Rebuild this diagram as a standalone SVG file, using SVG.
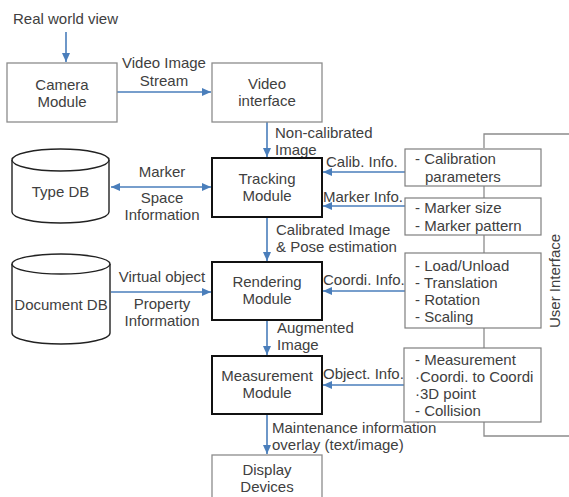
<svg xmlns="http://www.w3.org/2000/svg" width="569" height="497" viewBox="0 0 569 497">
<defs>
<marker id="ah" markerUnits="userSpaceOnUse" markerWidth="10" markerHeight="10" viewBox="0 0 10 10" refX="9" refY="5" orient="auto-start-reverse">
<path d="M0,1 L9,5 L0,9 z" fill="#4a7ebb"/>
</marker>
<style>
text{font-family:"Liberation Sans",Arial,sans-serif;font-size:15px;fill:#404040}
.c{text-anchor:middle}
.box{fill:#fff;stroke:#8c8c8c;stroke-width:1.3}
.mod{fill:#fff;stroke:#111;stroke-width:2}
.db{fill:#fff;stroke:#222;stroke-width:1.4}
.ui{fill:#fff;stroke:#7f7f7f;stroke-width:1.2}
.ar{stroke:#4a7ebb;stroke-width:1.6;fill:none;marker-end:url(#ah)}
.ln{stroke:#8c8c8c;stroke-width:1.3;fill:none}
</style>
</defs>
<rect width="569" height="497" fill="#fff"/>

<g id="connectors">
<path class="ln" d="M484,148 V134 H569"/>
<path class="ln" d="M484,186 V198"/>
<path class="ln" d="M484,235 V253"/>
<path class="ln" d="M484,328 V348"/>
<path class="ln" d="M484,422 V436 H569"/>
<path class="ar" d="M66,32 V62"/>
<path class="ar" d="M117,92 H211"/>
<path class="ar" d="M267,122 V157"/>
<path class="ar" d="M267,217 V261"/>
<path class="ar" d="M267,320 V355"/>
<path class="ar" d="M267,414 V454"/>
<path class="ar" d="M111,187 H211" style="marker-start:url(#ah)"/>
<path class="ar" d="M111,292 H211"/>
<path class="ar" d="M405,172 H323"/>
<path class="ar" d="M405,206 H323"/>
<path class="ar" d="M405,291 H323"/>
<path class="ar" d="M404,385 H323"/>
<text x="13" y="24">Real world view</text>
<text class="c" x="164" y="68">Video Image</text>
<text class="c" x="164" y="86">Stream</text>
<text x="275" y="138">Non-calibrated</text>
<text x="275" y="155">Image</text>
<text class="c" x="162" y="177">Marker</text>
<text class="c" x="162" y="203">Space</text>
<text class="c" x="162" y="220">Information</text>
<text x="276" y="235">Calibrated Image</text>
<text x="276" y="252">&amp; Pose estimation</text>
<text class="c" x="162" y="282">Virtual object</text>
<text class="c" x="162" y="309">Property</text>
<text class="c" x="162" y="326">Information</text>
<text x="277" y="333">Augmented</text>
<text x="277" y="350">Image</text>
<text x="272" y="433">Maintenance information</text>
<text x="272" y="450">overlay (text/image)</text>
<text x="326" y="167">Calib. Info.</text>
<text x="323" y="202">Marker Info.</text>
<text x="323" y="285">Coordi. Info.</text>
<text x="323" y="379">Object. Info.</text>
<text transform="translate(560,328) rotate(-90)">User Interface</text>
</g>

<g id="camera">
<rect class="box" x="7" y="63" width="110" height="59"/>
<text class="c" x="62" y="90">Camera</text>
<text class="c" x="62" y="107">Module</text>
</g>
<g id="video">
<rect class="box" x="212" y="63" width="110" height="59"/>
<text class="c" x="267" y="89">Video</text>
<text class="c" x="267" y="106">interface</text>
</g>
<g id="tracking">
<rect class="mod" x="212" y="158" width="110" height="59"/>
<text class="c" x="267" y="184">Tracking</text>
<text class="c" x="267" y="201">Module</text>
</g>
<g id="rendering">
<rect class="mod" x="212" y="262" width="110" height="58"/>
<text class="c" x="267" y="287">Rendering</text>
<text class="c" x="267" y="304">Module</text>
</g>
<g id="measurement">
<rect class="mod" x="212" y="356" width="110" height="58"/>
<text class="c" x="267" y="381">Measurement</text>
<text class="c" x="267" y="398">Module</text>
</g>
<g id="display">
<rect class="box" x="212" y="455" width="110" height="50"/>
<text class="c" x="267" y="475">Display</text>
<text class="c" x="267" y="492">Devices</text>
</g>
<g id="typedb">
<path class="db" d="M12,160 V212 A48.5,11 0 0 0 109,212 V160"/>
<ellipse class="db" cx="60.5" cy="160" rx="48.5" ry="11"/>
<text class="c" x="60.5" y="197">Type DB</text>
</g>
<g id="documentdb">
<path class="db" d="M12,264 V333 A49,11 0 0 0 110,333 V264"/>
<ellipse class="db" cx="61" cy="264" rx="49" ry="10"/>
<text class="c" x="61" y="310">Document DB</text>
</g>
<g id="calib">
<rect class="ui" x="405" y="149" width="136" height="37"/>
<text x="415" y="164">- Calibration</text>
<text x="425" y="182">parameters</text>
</g>
<g id="markerbox">
<rect class="ui" x="405" y="198" width="136" height="37"/>
<text x="415" y="213">- Marker size</text>
<text x="415" y="231">- Marker pattern</text>
</g>
<g id="coordbox">
<rect class="ui" x="405" y="253" width="136" height="75"/>
<text x="415" y="271">- Load/Unload</text>
<text x="415" y="288">- Translation</text>
<text x="415" y="305">- Rotation</text>
<text x="415" y="322">- Scaling</text>
</g>
<g id="measbox">
<rect class="ui" x="404" y="348" width="137" height="74"/>
<text x="415" y="365">- Measurement</text>
<text x="415" y="382">·Coordi. to Coordi</text>
<text x="415" y="399">·3D point</text>
<text x="415" y="416">- Collision</text>
</g>
</svg>
